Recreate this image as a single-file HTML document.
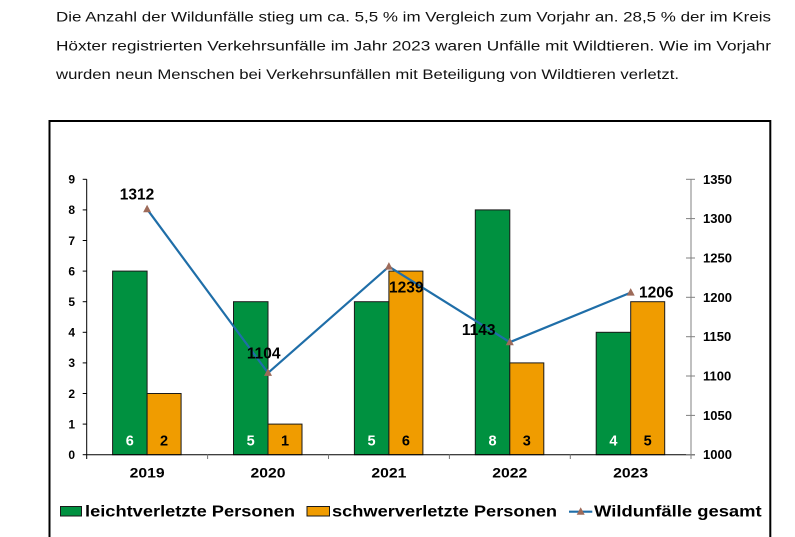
<!DOCTYPE html>
<html><head><meta charset="utf-8"><style>
html,body{margin:0;padding:0;background:#fff;width:795px;height:537px;overflow:hidden;}
svg{display:block;}
text{font-family:"Liberation Sans",Arial,sans-serif;}
</style></head><body>
<svg width="795" height="537" viewBox="0 0 795 537" xmlns="http://www.w3.org/2000/svg">
<rect width="795" height="537" fill="#fff"/>
<!-- paragraph -->
<g font-size="13.5" fill="#111">
<text x="56" y="21.7" textLength="715" lengthAdjust="spacingAndGlyphs">Die Anzahl der Wildunfälle stieg um ca. 5,5 % im Vergleich zum Vorjahr an. 28,5 % der im Kreis</text>
<text x="56" y="50.3" textLength="715" lengthAdjust="spacingAndGlyphs">Höxter registrierten Verkehrsunfälle im Jahr 2023 waren Unfälle mit Wildtieren. Wie im Vorjahr</text>
<text x="56" y="79" textLength="623" lengthAdjust="spacingAndGlyphs">wurden neun Menschen bei Verkehrsunfällen mit Beteiligung von Wildtieren verletzt.</text>
</g>
<!-- frame -->
<path d="M49.5 537 V121 H770.3 V537" fill="none" stroke="#000" stroke-width="2"/>

<!-- bars -->
<g stroke="#1a1a1a" stroke-width="1">
<rect x="112.6" y="271.1" width="34.5" height="183.6" fill="#009140"/>
<rect x="147.1" y="393.5" width="34" height="61.2" fill="#f09c00"/>
<rect x="233.5" y="301.7" width="34.5" height="153" fill="#009140"/>
<rect x="268" y="424.1" width="34" height="30.6" fill="#f09c00"/>
<rect x="354.4" y="301.7" width="34.5" height="153" fill="#009140"/>
<rect x="388.9" y="271.1" width="34" height="183.6" fill="#f09c00"/>
<rect x="475.3" y="209.9" width="34.5" height="244.8" fill="#009140"/>
<rect x="509.8" y="362.9" width="34" height="91.8" fill="#f09c00"/>
<rect x="596.2" y="332.3" width="34.5" height="122.4" fill="#009140"/>
<rect x="630.7" y="301.7" width="34" height="153" fill="#f09c00"/>
</g>

<!-- left axis -->
<g stroke="#000" stroke-width="1">
<line x1="86.7" y1="179.3" x2="86.7" y2="454.7"/>
<line x1="82.7" y1="179.3" x2="86.7" y2="179.3"/>
<line x1="82.7" y1="209.9" x2="86.7" y2="209.9"/>
<line x1="82.7" y1="240.5" x2="86.7" y2="240.5"/>
<line x1="82.7" y1="271.1" x2="86.7" y2="271.1"/>
<line x1="82.7" y1="301.7" x2="86.7" y2="301.7"/>
<line x1="82.7" y1="332.3" x2="86.7" y2="332.3"/>
<line x1="82.7" y1="362.9" x2="86.7" y2="362.9"/>
<line x1="82.7" y1="393.5" x2="86.7" y2="393.5"/>
<line x1="82.7" y1="424.1" x2="86.7" y2="424.1"/>
<line x1="82.7" y1="454.7" x2="86.7" y2="454.7"/>
<line x1="86.7" y1="454.7" x2="695" y2="454.7"/>
<line x1="86.7" y1="454.7" x2="86.7" y2="459"/>
<line x1="207.6" y1="454.7" x2="207.6" y2="459" stroke="#777"/>
<line x1="328.5" y1="454.7" x2="328.5" y2="459" stroke="#777"/>
<line x1="449.4" y1="454.7" x2="449.4" y2="459" stroke="#777"/>
<line x1="570.3" y1="454.7" x2="570.3" y2="459" stroke="#777"/>
</g>
<!-- right axis -->
<g stroke="#808080" stroke-width="1">
<line x1="691" y1="179.3" x2="691" y2="459"/>
<line x1="686" y1="179.3" x2="695" y2="179.3"/>
<line x1="686" y1="218.6" x2="695" y2="218.6"/>
<line x1="686" y1="258" x2="695" y2="258"/>
<line x1="686" y1="297.3" x2="695" y2="297.3"/>
<line x1="686" y1="336.7" x2="695" y2="336.7"/>
<line x1="686" y1="376" x2="695" y2="376"/>
<line x1="686" y1="415.4" x2="695" y2="415.4"/>
<line x1="686" y1="454.7" x2="695" y2="454.7"/>
</g>

<!-- left labels -->
<g font-size="12" font-weight="bold" fill="#000" text-anchor="end">
<text x="75" y="183.6">9</text>
<text x="75" y="214.2">8</text>
<text x="75" y="244.8">7</text>
<text x="75" y="275.4">6</text>
<text x="75" y="306">5</text>
<text x="75" y="336.6">4</text>
<text x="75" y="367.2">3</text>
<text x="75" y="397.8">2</text>
<text x="75" y="428.4">1</text>
<text x="75" y="459">0</text>
</g>
<!-- right labels -->
<g font-size="13" font-weight="bold" fill="#000">
<text x="703" y="183.8">1350</text>
<text x="703" y="223.1">1300</text>
<text x="703" y="262.5">1250</text>
<text x="703" y="301.8">1200</text>
<text x="703" y="341.2">1150</text>
<text x="703" y="380.5">1100</text>
<text x="703" y="419.9">1050</text>
<text x="703" y="459.2">1000</text>
</g>
<!-- year labels -->
<g font-size="14" font-weight="bold" fill="#000">
<text x="129.6" y="477.3" textLength="35" lengthAdjust="spacingAndGlyphs">2019</text>
<text x="250.5" y="477.3" textLength="35" lengthAdjust="spacingAndGlyphs">2020</text>
<text x="371.4" y="477.3" textLength="35" lengthAdjust="spacingAndGlyphs">2021</text>
<text x="492.3" y="477.3" textLength="35" lengthAdjust="spacingAndGlyphs">2022</text>
<text x="613.2" y="477.3" textLength="35" lengthAdjust="spacingAndGlyphs">2023</text>
</g>

<!-- line series -->
<polyline points="147.1,209.2 268,372.9 388.9,266.6 509.8,342.2 630.7,292.6" fill="none" stroke="#1f6ea8" stroke-width="2.2" stroke-linejoin="round"/>
<g fill="#9e6b5a">
<polygon points="147.1,204.7 143.1,212.2 151.1,212.2"/>
<polygon points="268,368.4 264,375.9 272,375.9"/>
<polygon points="388.9,262.1 384.9,269.6 392.9,269.6"/>
<polygon points="509.8,337.7 505.8,345.2 513.8,345.2"/>
<polygon points="630.7,288.1 626.7,295.6 634.7,295.6"/>
</g>

<!-- data labels line -->
<g font-size="15.5" font-weight="bold" fill="#000" text-anchor="middle">
<text x="137" y="199.3">1312</text>
<text x="263.7" y="358.3">1104</text>
<text x="406.3" y="292.7">1239</text>
<text x="478.7" y="335">1143</text>
<text x="656.3" y="297.7">1206</text>
</g>
<!-- bar labels -->
<g font-size="14.5" font-weight="bold" text-anchor="middle">
<text x="129.8" y="445.7" fill="#fff">6</text>
<text x="164.1" y="445.7" fill="#000">2</text>
<text x="250.7" y="445.7" fill="#fff">5</text>
<text x="285" y="445.7" fill="#000">1</text>
<text x="371.6" y="445.7" fill="#fff">5</text>
<text x="405.9" y="445.7" fill="#000">6</text>
<text x="492.5" y="445.7" fill="#fff">8</text>
<text x="526.8" y="445.7" fill="#000">3</text>
<text x="613.4" y="445.7" fill="#fff">4</text>
<text x="647.7" y="445.7" fill="#000">5</text>
</g>

<!-- legend -->
<rect x="60.5" y="506.5" width="21" height="9.5" fill="#009140" stroke="#1a1a1a" stroke-width="1"/>
<rect x="307" y="506.5" width="22.5" height="9.5" fill="#f09c00" stroke="#1a1a1a" stroke-width="1"/>
<line x1="569" y1="511.7" x2="592.3" y2="511.7" stroke="#1f6ea8" stroke-width="2.2"/>
<polygon points="580.7,507.2 576.7,514.7 584.7,514.7" fill="#9e6b5a"/>
<g font-size="15.5" font-weight="bold" fill="#000">
<text x="85" y="516.7" textLength="210" lengthAdjust="spacingAndGlyphs">leichtverletzte Personen</text>
<text x="332" y="516.7" textLength="225" lengthAdjust="spacingAndGlyphs">schwerverletzte Personen</text>
<text x="594" y="516.7" textLength="167.7" lengthAdjust="spacingAndGlyphs">Wildunfälle gesamt</text>
</g>
</svg>
</body></html>
